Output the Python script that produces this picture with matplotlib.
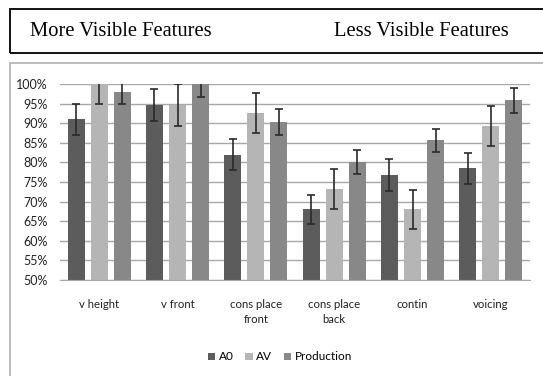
import matplotlib
matplotlib.use("Agg")
import matplotlib.pyplot as plt
import numpy as np
from matplotlib.patches import Rectangle

categories = ["v height", "v front", "cons place\nfront", "cons place\nback", "contin", "voicing"]
series = ["A0", "AV", "Production"]
ao = [91.0, 94.6, 82.0, 68.0, 76.8, 78.5]
av = [100.0, 94.6, 92.6, 73.2, 68.0, 89.3]
prod = [98.0, 100.0, 90.2, 80.1, 85.6, 95.8]
ao_err = [4.0, 4.0, 4.0, 3.8, 4.0, 4.0]
av_err = [5.2, 5.3, 5.2, 5.2, 5.0, 5.0]
prod_err = [3.0, 3.2, 3.3, 3.0, 3.0, 3.3]

colors = ["#5c5c5c", "#b5b5b5", "#888888"]
label_font = ["Lato", "DejaVu Sans"]

fig = plt.figure(figsize=(5.43, 3.76), dpi=100)

# outer boxes (header box and chart frame)
fig.patches.append(Rectangle((10 / 543, 1 - 53 / 376), 540 / 543, 44 / 376,
                             transform=fig.transFigure, fill=False,
                             edgecolor="black", linewidth=1.3))
fig.patches.append(Rectangle((10 / 543, -0.05), 540 / 543, 1 - 63 / 376 + 0.05,
                             transform=fig.transFigure, fill=False,
                             edgecolor="#b0b0b0", linewidth=1.2))
fig.text(30 / 543, 1 - 32 / 376, "More Visible Features", family="Liberation Serif",
         fontsize=14.8, va="center", ha="left")
fig.text(509 / 543, 1 - 32 / 376, "Less Visible Features", family="Liberation Serif",
         fontsize=14.8, va="center", ha="right")

ax = fig.add_axes([60 / 543, 1 - 280 / 376, 470 / 543, 196 / 376])
x = np.arange(len(categories))
width = 0.217
step = 0.294
for i, (vals, errs) in enumerate(zip([ao, av, prod], [ao_err, av_err, prod_err])):
    ax.bar(x + (i - 1) * step, vals, width, color=colors[i], label=series[i], zorder=2)
    ax.errorbar(x + (i - 1) * step, vals, yerr=errs, fmt="none", ecolor="#2a2a2a",
                elinewidth=1.2, capsize=3, capthick=1.2, zorder=3)

ax.set_xlim(-0.5, len(categories) - 0.5)
ax.set_ylim(50, 100)
ax.set_yticks(np.arange(50, 101, 5))
ax.set_yticklabels([f"{v}%" for v in range(50, 101, 5)], family=label_font, fontsize=9,
                   color="#222222")
ax.set_xticks(x)
ax.set_xticklabels(categories, family=label_font, fontsize=8.2, color="#222222",
                   linespacing=1.45, va="top")
ax.yaxis.grid(True, color="#a8a8a8", linewidth=1, zorder=0)
ax.tick_params(length=0)
ax.tick_params(axis="x", pad=14)
ax.tick_params(axis="y", pad=9)
for s in ["top", "right", "left"]:
    ax.spines[s].set_visible(False)
ax.spines["bottom"].set_color("#a8a8a8")

fig.legend(loc="center", bbox_to_anchor=(280 / 543, 1 - 357 / 376), ncol=3, frameon=False,
           handlelength=0.6, handleheight=0.6, handletextpad=0.3, columnspacing=1.0,
           prop={"family": label_font, "size": 8.5})

fig.savefig("out.png", dpi=100)
